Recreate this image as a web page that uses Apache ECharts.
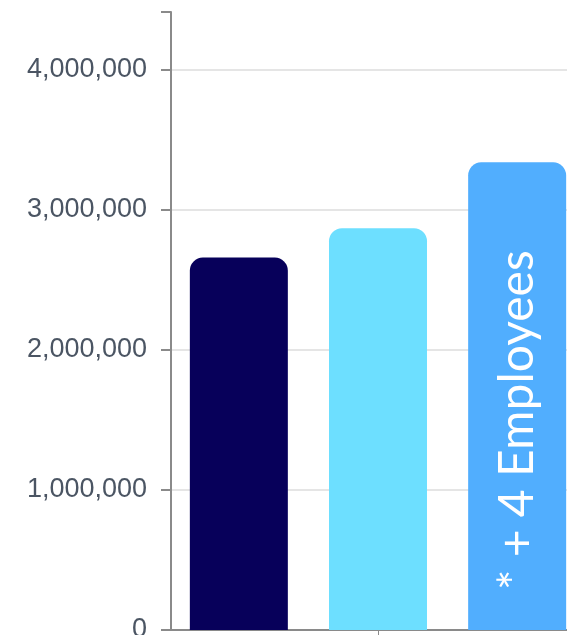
<!DOCTYPE html>
<html>
<head>
<meta charset="utf-8">
<script src="https://cdn.jsdelivr.net/npm/echarts@6/dist/echarts.min.js"></script>
<style>
  html, body { margin: 0; padding: 0; background: #ffffff; overflow: hidden; }
  #chart { width: 567px; height: 635px; }
</style>
</head>
<body>
<div id="chart"></div>
<script>
// One category, three series drawn side by side
const categories = [''];
const seriesNames = ['Series A', 'Series B', 'Series C'];
const seriesValues = [
  [2660000],
  [2870000],
  [3340000]
];
const seriesColors = ['#07005a', '#6ddfff', '#51aefe'];
const barNote = '* + 4 Employees';
const yTicks = [0, 1000000, 2000000, 3000000, 4000000];

const chart = echarts.init(document.getElementById('chart'), null, { renderer: 'canvas', width: 567, height: 635 });

const axisGrey = '#8a8a8a';

const series = seriesNames.map((name, i) => ({
  name: name,
  type: 'bar',
  data: seriesValues[i],
  barWidth: 98,
  barGap: '42%',
  itemStyle: { color: seriesColors[i], borderRadius: [13, 13, 0, 0] },
  label: i === 2 ? {
    show: true,
    formatter: barNote,
    position: 'insideBottom',
    distance: 40,
    rotate: 90,
    align: 'left',
    verticalAlign: 'middle',
    color: '#ffffff',
    fontFamily: 'Lato',
    fontSize: 48
  } : { show: false }
}));

chart.setOption({
  animation: false,
  // the plot runs a little past the right and bottom edges of the canvas
  grid: { left: 171, right: -18, top: 12, bottom: 5, containLabel: false, outerBoundsMode: 'none' },
  xAxis: {
    type: 'category',
    data: categories,
    axisLine: { show: true, lineStyle: { color: axisGrey, width: 2 } },
    axisTick: { show: true, alignWithLabel: true, length: 6, lineStyle: { color: axisGrey, width: 1 } },
    axisLabel: { show: false },
    splitLine: { show: false }
  },
  yAxis: {
    type: 'value',
    min: 0,
    max: 4414000,
    interval: 1000000,
    axisLine: { show: true, lineStyle: { color: axisGrey, width: 2 } },
    axisTick: { show: true, length: 10, lineStyle: { color: axisGrey, width: 2 } },
    axisLabel: {
      customValues: yTicks,
      margin: 24,
      color: '#4b5563',
      fontFamily: 'Liberation Sans',
      fontSize: 27,
      formatter: v => v.toLocaleString('en-US')
    },
    splitLine: { show: true, showMaxLine: false, lineStyle: { color: '#dcdcdc', width: 1.5 } }
  },
  series: series
});
</script>
</body>
</html>
